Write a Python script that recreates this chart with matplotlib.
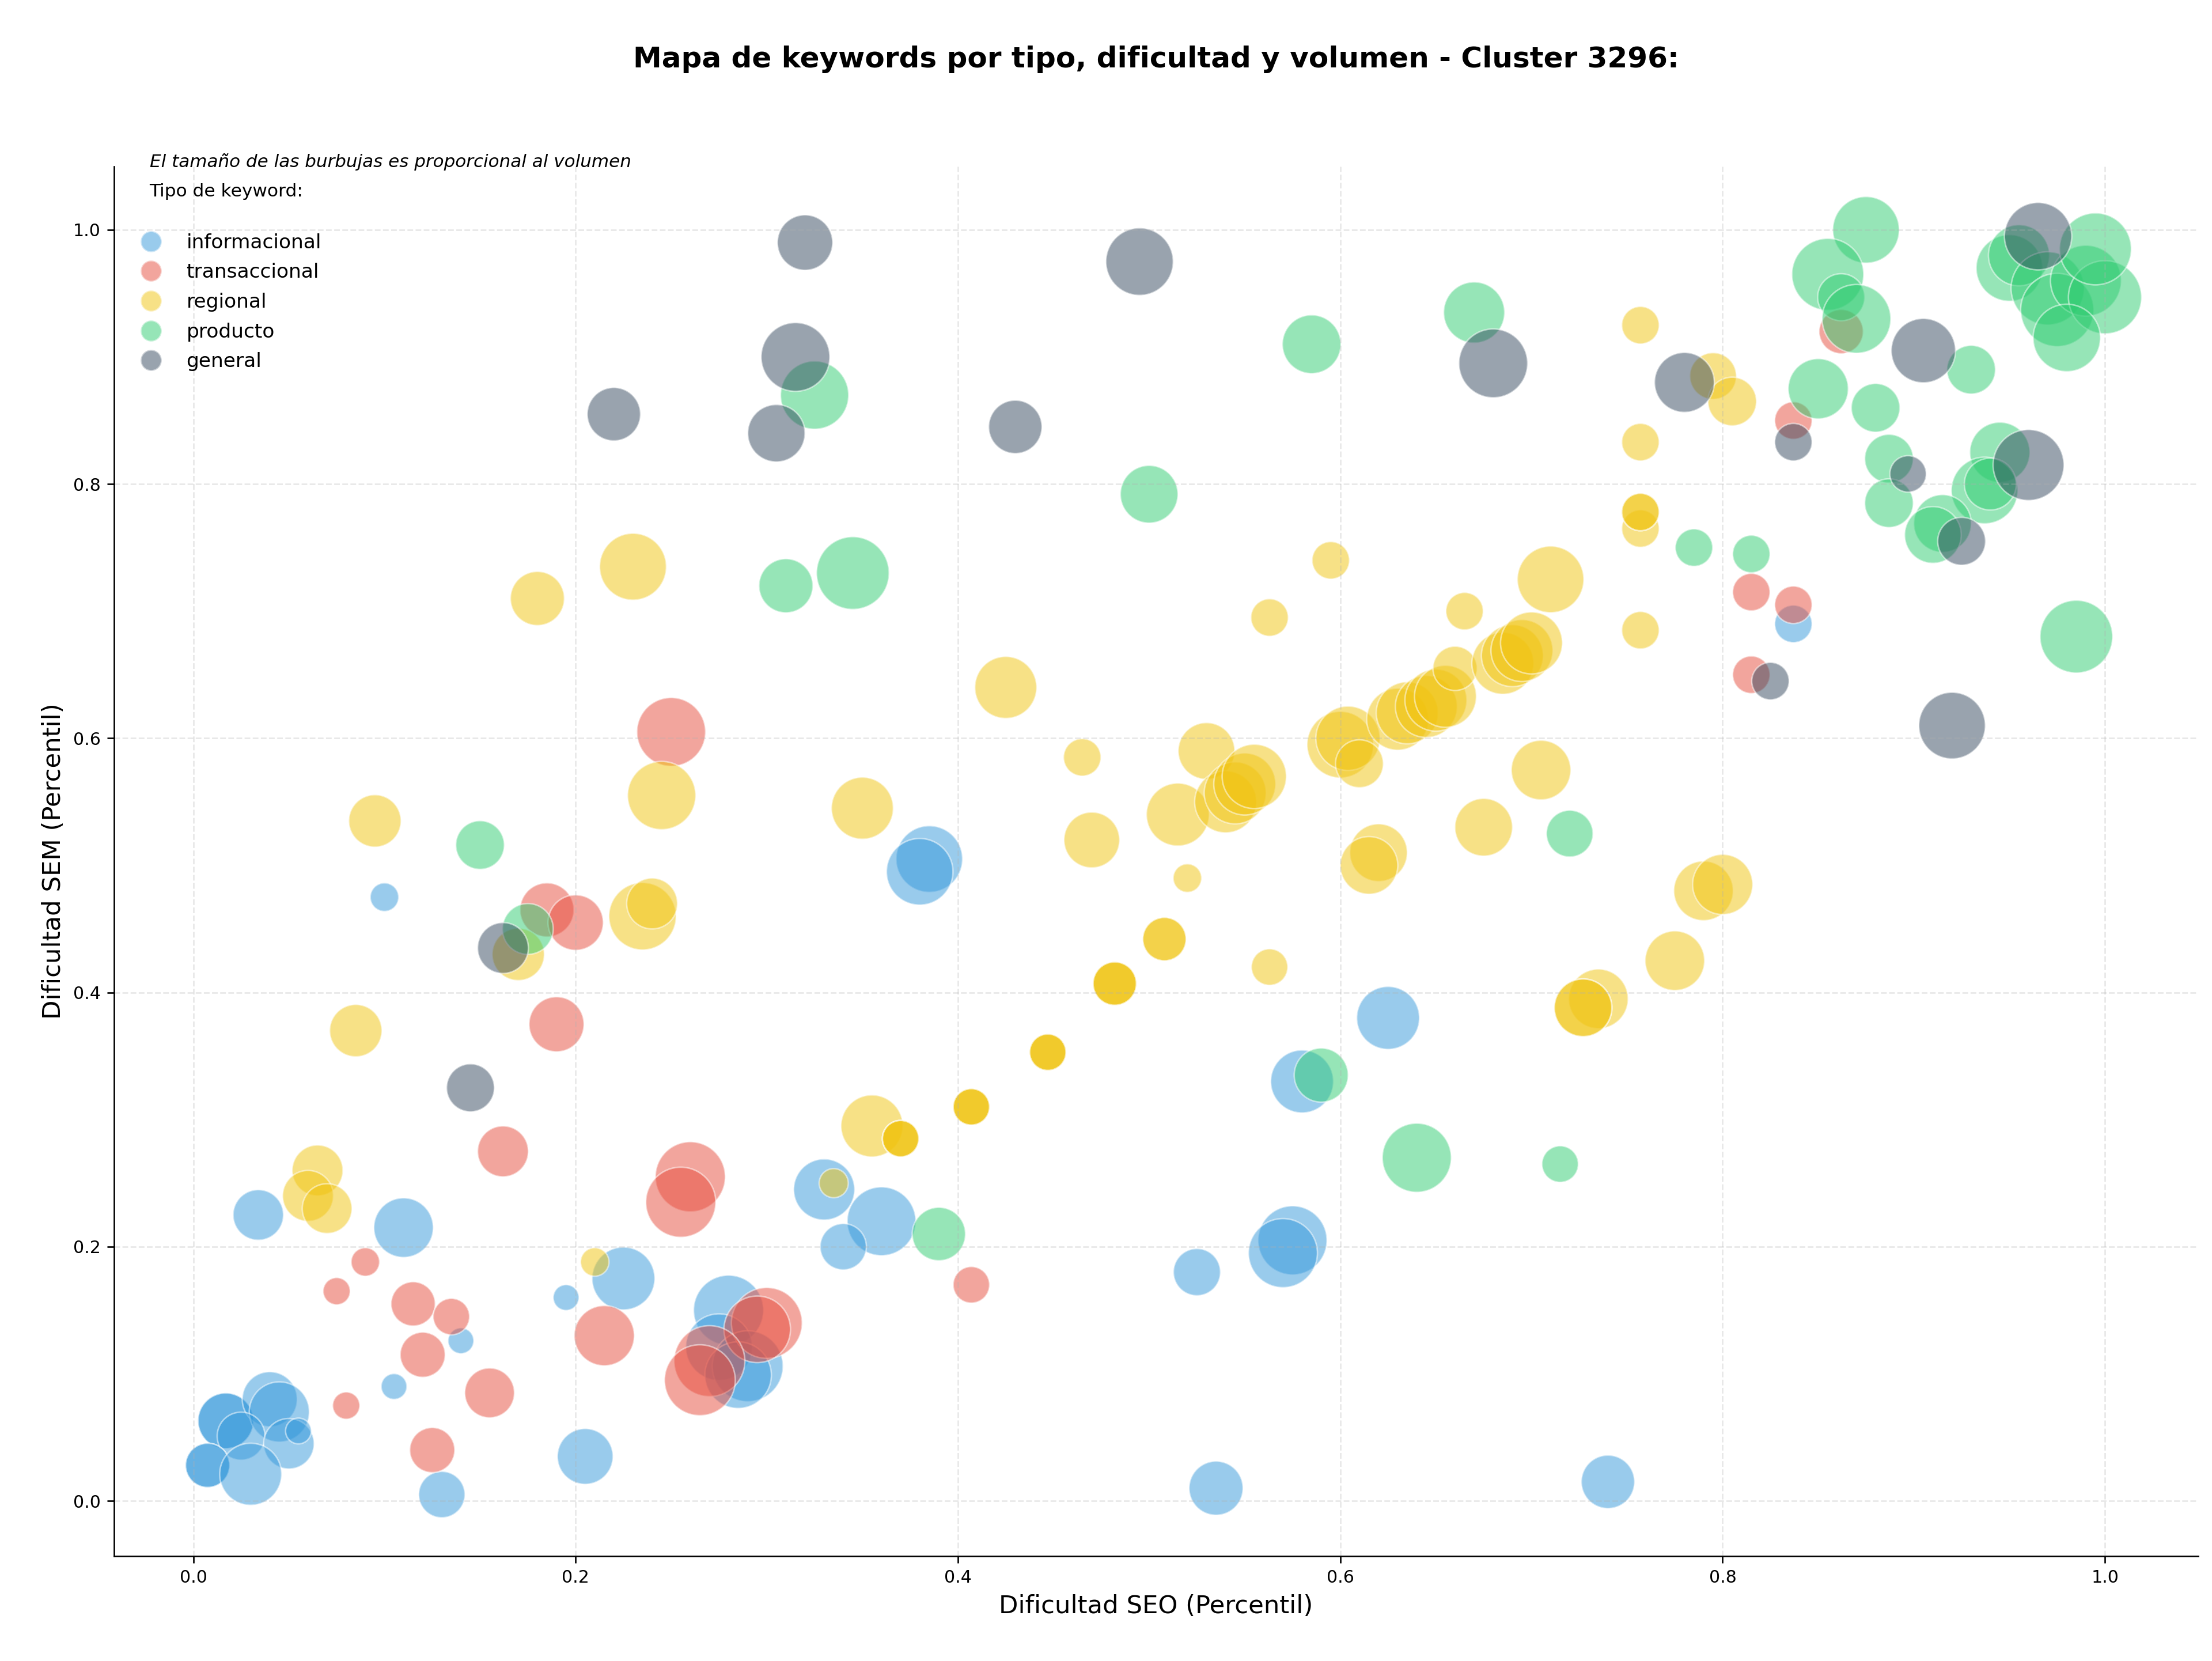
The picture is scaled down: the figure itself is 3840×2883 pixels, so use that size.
import matplotlib
matplotlib.use("Agg")
import matplotlib.pyplot as plt
from matplotlib.lines import Line2D

# tipos de keyword y colores
tipos = ["informacional", "transaccional", "regional", "producto", "general"]
colores = ["#3498db", "#e74c3c", "#f1c40f", "#2ecc71", "#34495e"]

# informacional
inf_seo = [0.034, 0.110, 0.100, 0.195, 0.140, 0.105, 0.225, 0.205, 0.130,
           0.017, 0.017, 0.040, 0.045, 0.025, 0.050, 0.055, 0.0075, 0.0075, 0.030,
           0.280, 0.275, 0.290, 0.285, 0.330, 0.360, 0.340, 0.385, 0.380,
           0.625, 0.580, 0.575, 0.570, 0.525, 0.535, 0.740, 0.837]
inf_sem = [0.225, 0.215, 0.475, 0.160, 0.126, 0.090, 0.175, 0.035, 0.005,
           0.063, 0.063, 0.080, 0.070, 0.051, 0.045, 0.055, 0.028, 0.028, 0.021,
           0.150, 0.121, 0.106, 0.099, 0.245, 0.220, 0.200, 0.505, 0.495,
           0.380, 0.330, 0.205, 0.195, 0.180, 0.010, 0.015, 0.690]
inf_vol = [69, 96, 22, 18, 18, 18, 107, 84, 58,
           84, 84, 82, 98, 62, 69, 18, 53, 53, 104,
           133, 120, 136, 120, 101, 128, 58, 120, 120,
           107, 107, 129, 129, 60, 79, 77, 38]

# transaccional
tra_seo = [0.250, 0.185, 0.200, 0.190, 0.162, 0.260, 0.255, 0.090, 0.075,
           0.115, 0.135, 0.120, 0.215, 0.155, 0.080, 0.125, 0.300, 0.295,
           0.270, 0.265, 0.407, 0.815, 0.837, 0.815, 0.837, 0.862]
tra_sem = [0.605, 0.465, 0.455, 0.375, 0.275, 0.255, 0.235, 0.188, 0.165,
           0.155, 0.145, 0.115, 0.130, 0.085, 0.075, 0.040, 0.140, 0.135,
           0.110, 0.095, 0.170, 0.715, 0.705, 0.650, 0.850, 0.920]
tra_vol = [128, 79, 83, 82, 70, 133, 133, 22, 20,
           53, 36, 55, 98, 67, 20, 55, 136, 120,
           136, 136, 36, 38, 38, 38, 38, 53]

# regional
reg_seo = [0.230, 0.180, 0.245, 0.095, 0.235, 0.240, 0.170, 0.085, 0.065,
           0.060, 0.070, 0.210, 0.335, 0.355, 0.370, 0.370, 0.370,
           0.407, 0.407, 0.407, 0.447, 0.447, 0.447, 0.482, 0.482, 0.482,
           0.508, 0.508, 0.520, 0.563, 0.350, 0.425, 0.465, 0.470, 0.530,
           0.515, 0.540, 0.545, 0.550, 0.555, 0.600, 0.604, 0.610,
           0.630, 0.635, 0.645, 0.650, 0.655, 0.660, 0.685, 0.690, 0.695, 0.700,
           0.563, 0.595, 0.665, 0.757, 0.757, 0.757, 0.757, 0.757, 0.757,
           0.795, 0.805, 0.710, 0.705, 0.675, 0.620, 0.615, 0.790, 0.800,
           0.775, 0.735, 0.727, 0.727]
reg_sem = [0.735, 0.710, 0.555, 0.535, 0.460, 0.470, 0.430, 0.370, 0.260,
           0.240, 0.230, 0.188, 0.250, 0.295, 0.285, 0.285, 0.285,
           0.310, 0.310, 0.310, 0.353, 0.353, 0.353, 0.407, 0.407, 0.407,
           0.442, 0.442, 0.490, 0.420, 0.545, 0.640, 0.585, 0.520, 0.590,
           0.540, 0.550, 0.557, 0.564, 0.570, 0.595, 0.600, 0.580,
           0.615, 0.620, 0.625, 0.630, 0.633, 0.655, 0.659, 0.665, 0.669, 0.675,
           0.695, 0.740, 0.700, 0.685, 0.765, 0.778, 0.778, 0.833, 0.925,
           0.885, 0.865, 0.725, 0.575, 0.530, 0.510, 0.500, 0.480, 0.485,
           0.425, 0.395, 0.388, 0.388]
reg_vol = [121, 79, 126, 74, 123, 70, 74, 74, 70,
           70, 67, 22, 23, 104, 36, 36, 36,
           36, 36, 36, 36, 36, 36, 51, 51, 51,
           51, 51, 22, 36, 104, 104, 38, 84, 87,
           107, 104, 104, 104, 112, 120, 112, 62,
           104, 104, 104, 104, 104, 53, 104, 104, 104, 104,
           38, 38, 38, 38, 38, 38, 38, 38, 38,
           59, 64, 120, 96, 90, 90, 90, 96, 98,
           96, 96, 90, 90]

# producto
pro_seo = [0.150, 0.175, 0.310, 0.345, 0.325, 0.390, 0.500, 0.585, 0.670,
           0.590, 0.640, 0.715, 0.720, 0.785, 0.815, 0.875, 0.855, 0.862,
           0.870, 0.930, 0.850, 0.880, 0.887, 0.887, 0.945, 0.937, 0.940,
           0.915, 0.910, 0.950, 0.955, 0.970, 0.975, 0.990, 1.000, 0.995,
           0.980, 0.985]
pro_sem = [0.516, 0.450, 0.720, 0.730, 0.870, 0.210, 0.792, 0.910, 0.935,
           0.335, 0.270, 0.265, 0.525, 0.750, 0.745, 1.000, 0.965, 0.947,
           0.930, 0.890, 0.875, 0.860, 0.820, 0.785, 0.825, 0.795, 0.800,
           0.769, 0.760, 0.970, 0.980, 0.954, 0.937, 0.960, 0.947, 0.985,
           0.915, 0.680]
pro_vol = [64, 70, 79, 143, 126, 77, 90, 93, 101,
           79, 129, 36, 59, 38, 38, 120, 140, 60,
           128, 64, 98, 64, 64, 64, 98, 120, 73,
           90, 87, 120, 101, 145, 145, 136, 145, 140,
           123, 143]

# general
gen_seo = [0.320, 0.315, 0.220, 0.305, 0.495, 0.430, 0.680, 0.162, 0.145,
           0.780, 0.837, 0.825, 0.905, 0.897, 0.960, 0.925, 0.965, 0.920]
gen_sem = [0.990, 0.900, 0.855, 0.840, 0.975, 0.845, 0.895, 0.435, 0.325,
           0.880, 0.833, 0.645, 0.905, 0.808, 0.815, 0.755, 0.995, 0.610]
gen_vol = [83, 128, 77, 89, 123, 77, 128, 70, 62,
           97, 38, 38, 112, 36, 136, 62, 123, 120]

series = [(inf_seo, inf_sem, inf_vol), (tra_seo, tra_sem, tra_vol),
          (reg_seo, reg_sem, reg_vol), (pro_seo, pro_sem, pro_vol),
          (gen_seo, gen_sem, gen_vol)]

fig = plt.figure(figsize=(16, 12.0125), dpi=240)
ax = fig.add_axes([0.0516, 0.0631, 0.9422, 0.8367])

for (sx, sy, vol), tipo, col in zip(series, tipos, colores):
    ax.scatter(sx, sy, s=[v * 10 for v in vol], c=col, alpha=0.5,
               edgecolors="white", linewidths=0.8, label=tipo)

ax.set_xlim(-0.0414, 1.0488)
ax.set_ylim(-0.0435, 1.0499)
ax.set_xlabel("Dificultad SEO (Percentil)", fontsize=13)
ax.set_ylabel("Dificultad SEM (Percentil)", fontsize=13)
ax.tick_params(labelsize=9)
ax.grid(True, linestyle="--", alpha=0.3)
ax.spines["top"].set_visible(False)
ax.spines["right"].set_visible(False)

ax.text(0.5, 1.077, "Mapa de keywords por tipo, dificultad y volumen - Cluster 3296:",
        transform=ax.transAxes, ha="center", va="center", fontsize=15, fontweight="bold")
ax.text(0.017, 0.997, "El tamaño de las burbujas es proporcional al volumen",
        transform=ax.transAxes, ha="left", va="bottom", fontsize=9.3, style="italic")

handles = [Line2D([0], [0], marker="o", linestyle="", markersize=11,
                  markerfacecolor=c, markeredgecolor="white", alpha=0.5) for c in colores]
leg = ax.legend(handles, tipos, loc="upper left", frameon=False, fontsize=10.3,
                title="Tipo de keyword:\n", title_fontsize=9.4, labelspacing=0.54,
                borderaxespad=0.45)
leg.get_title().set_linespacing(1.45)

fig.savefig("out.png", dpi=240)
